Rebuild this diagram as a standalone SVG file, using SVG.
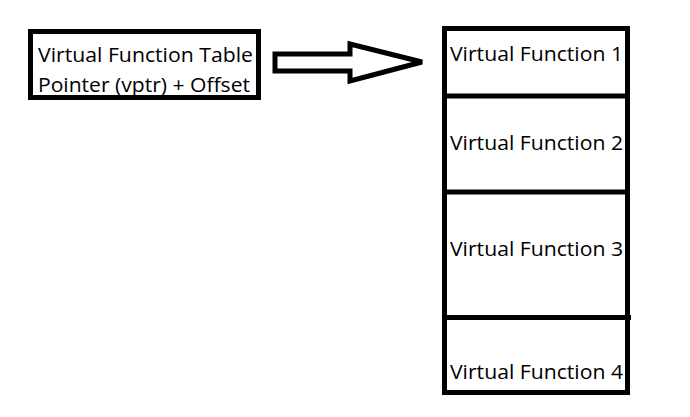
<svg xmlns="http://www.w3.org/2000/svg" width="690" height="417" viewBox="0 0 690 417">
<style>
.box{fill:#fff;stroke:#000;stroke-width:5}
.ln{stroke:#000;stroke-width:5;fill:none}
.t{font-family:"Open Sans","Noto Sans","Liberation Sans",sans-serif;font-size:20px;fill:#000}
</style>
<rect width="690" height="417" fill="#fff"/>
<g id="vptr">
<rect class="box" x="30.5" y="31.5" width="228" height="66"/>
<text class="t" x="38" y="62" textLength="215" lengthAdjust="spacingAndGlyphs">Virtual Function Table</text>
<text class="t" x="38" y="92" textLength="212" lengthAdjust="spacingAndGlyphs">Pointer (vptr) + Offset</text>
</g>
<g id="connectors">
<polygon class="box" stroke-linejoin="miter" points="275,54 350,54 350,44 422,62 350,81 350,71 275,71"/>
</g>
<g id="vtable">
<rect class="box" x="444.5" y="28.5" width="183" height="364"/>
<line class="ln" x1="444.5" y1="96" x2="627.5" y2="96"/>
<line class="ln" x1="444.5" y1="192" x2="627.5" y2="192"/>
<line class="ln" x1="444.5" y1="317.5" x2="631" y2="317.5"/>
</g>
<g id="vf1"><text class="t" x="450" y="61" textLength="173" lengthAdjust="spacingAndGlyphs">Virtual Function 1</text></g>
<g id="vf2"><text class="t" x="450" y="150" textLength="173" lengthAdjust="spacingAndGlyphs">Virtual Function 2</text></g>
<g id="vf3"><text class="t" x="450" y="256" textLength="173" lengthAdjust="spacingAndGlyphs">Virtual Function 3</text></g>
<g id="vf4"><text class="t" x="450" y="379" textLength="173" lengthAdjust="spacingAndGlyphs">Virtual Function 4</text></g>
</svg>
